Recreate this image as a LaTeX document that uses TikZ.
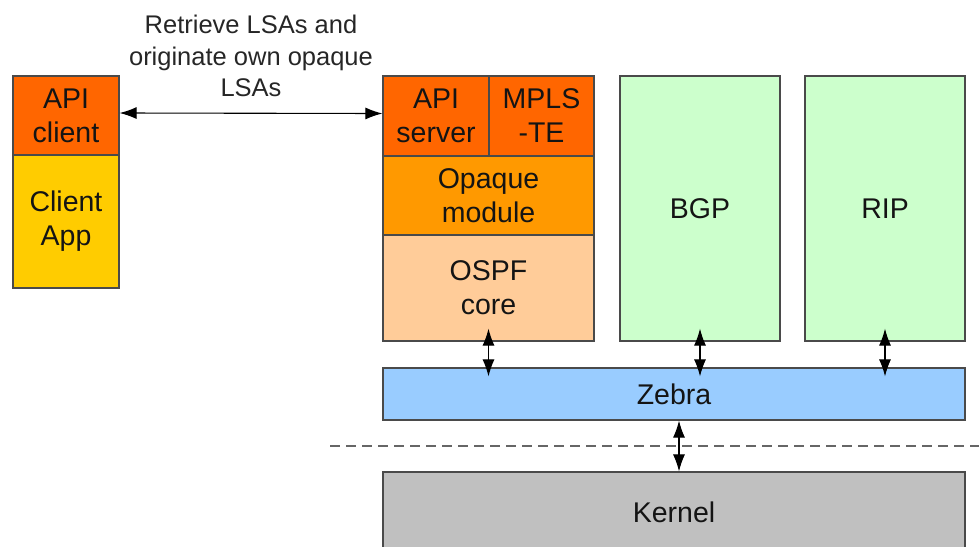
\documentclass[tikz,border=0pt]{standalone}
\usepackage{fontspec}
\setmainfont{Liberation Sans}
\usetikzlibrary{arrows.meta}
\definecolor{apiorange}{HTML}{FF6600}
\definecolor{appyellow}{HTML}{FFCC00}
\definecolor{opaqorange}{HTML}{FF9900}
\definecolor{ospfpeach}{HTML}{FFCC99}
\definecolor{protogreen}{HTML}{CCFFCC}
\definecolor{zebrablue}{HTML}{99CCFF}
\definecolor{kernelgray}{HTML}{C0C0C0}
\definecolor{edgegray}{HTML}{4A4A4A}
\begin{document}
\begin{tikzpicture}[x=1pt,y=-1pt,
  box/.style={draw=edgegray, line width=1.2pt, inner sep=0pt, align=center,
    font=\fontsize{28.5}{34}\selectfont, text=black!92},
  dblarrow/.style={line width=1.1pt, {Latex[length=17pt,width=12pt]}-{Latex[length=17pt,width=12pt]}},
  divider/.style={draw=gray!80!black, line width=1.5pt, dash pattern=on 10pt off 6pt}]
\useasboundingbox (0,0) rectangle (979,546);
% left client
\node[box, fill=apiorange, minimum width=106pt, minimum height=79pt] (apic) at (66,115.5) {API\\client};
\node[box, fill=appyellow, minimum width=106pt, minimum height=133pt] (capp) at (66,221.5) {Client\\App};
% OSPF stack
\node[box, fill=apiorange, minimum width=106pt, minimum height=80pt] (apis) at (436,116) {API\\server};
\node[box, fill=apiorange, minimum width=105pt, minimum height=80pt] (mpls) at (541.5,116) {MPLS\\-TE};
\node[box, fill=opaqorange, minimum width=211pt, minimum height=79pt] (opaq) at (488.5,195.5) {Opaque\\module};
\node[box, fill=ospfpeach, minimum width=211pt, minimum height=106pt] (ospf) at (488.5,288) {OSPF\\core};
% other daemons
\node[box, fill=protogreen, minimum width=160pt, minimum height=265pt] (bgp) at (700,208.5) {BGP};
\node[box, fill=protogreen, minimum width=160pt, minimum height=265pt] (rip) at (885,208.5) {RIP};
% zebra and kernel
\node[box, fill=zebrablue, minimum width=582pt, minimum height=52pt] (zebra) at (674,394) {Zebra};
\node[box, fill=kernelgray, minimum width=582pt, minimum height=80pt] (kernel) at (674,512) {Kernel};
% label
\node[align=center, inner sep=0pt, font=\fontsize{25.5}{31.5}\selectfont, text=black!85] (lbl) at (251,56) {Retrieve LSAs and\\originate own opaque\\LSAs};
% divider
\coordinate (dl) at (330,446);
\coordinate (dr) at (979,446);
\draw[divider] (dl) -- (dr);
% arrows
\draw[dblarrow] ([yshift=2.5pt]apic.east) -- ([yshift=2.5pt]apis.west);
\draw[dblarrow, shorten <=-13pt, shorten >=-9pt] (ospf.south) -- (ospf.south |- zebra.north);
\draw[dblarrow, shorten <=-13pt, shorten >=-9pt] (bgp.south) -- (bgp.south |- zebra.north);
\draw[dblarrow, shorten <=-13pt, shorten >=-9pt] (rip.south) -- (rip.south |- zebra.north);
\draw[dblarrow] ([xshift=5pt]zebra.south) -- ([xshift=5pt]kernel.north);
\end{tikzpicture}
\end{document}
